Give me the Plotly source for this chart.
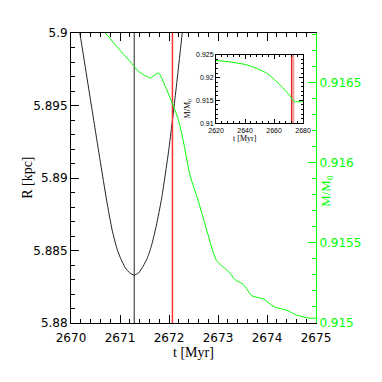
import plotly.graph_objects as go

# radius of the orbit around pericentre
t_r = [2670.09, 2670.19, 2670.43, 2670.59, 2670.73, 2670.84, 2670.94, 2671.02,
       2671.11, 2671.20, 2671.29, 2671.38, 2671.47, 2671.56, 2671.64, 2671.74,
       2671.85, 2671.99, 2672.13, 2672.27, 2672.34]
r_kpc = [5.9019, 5.8998, 5.8947, 5.8913, 5.8884, 5.8864, 5.8851, 5.8844,
         5.8838, 5.88345, 5.8833, 5.88345, 5.8839, 5.8845, 5.8853, 5.8867,
         5.8886, 5.8918, 5.8957, 5.9000, 5.9023]

# bound mass fraction, zoomed window
t_m = [2670.70, 2670.95, 2671.24, 2671.38, 2671.62, 2671.72, 2671.79, 2671.92,
       2672.03, 2672.19, 2672.29, 2672.43, 2672.60, 2672.76, 2672.97, 2673.22,
       2673.35, 2673.52, 2673.69, 2673.93, 2674.15, 2674.40, 2674.60, 2674.87,
       2675.00]
m_frac = [0.91681, 0.91672, 0.91662, 0.91657, 0.91653, 0.91655, 0.91656, 0.91648,
          0.91640, 0.91627, 0.91614, 0.91592, 0.91576, 0.91559, 0.91539, 0.91532,
          0.91527, 0.91524, 0.91517, 0.91515, 0.91510, 0.91508, 0.91505, 0.91503,
          0.91503]

# bound mass fraction, long window (inset)
t_inset = [2620.0, 2630.0, 2641.0, 2648.0, 2654.8, 2661.7, 2666.0, 2669.4,
           2671.5, 2672.5, 2674.0, 2676.0, 2678.1, 2680.0]
m_inset = [0.92375, 0.92340, 0.92280, 0.92200, 0.92100, 0.91914, 0.91780, 0.91659,
           0.91580, 0.91520, 0.91480, 0.91470, 0.91470, 0.91470]

t_peri = 2671.29
t_mark = 2672.07
t_band = 2672.8

green = "#00ff00"
tick_font = dict(family="DejaVu Sans", size=12, color="black")
small_font = dict(family="Liberation Sans", size=7, color="black")

fig = go.Figure()
fig.add_trace(go.Scatter(x=t_r, y=r_kpc, mode="lines",
                         line=dict(color="#222222", width=1, shape="spline", smoothing=0.5),
                         xaxis="x", yaxis="y"))
fig.add_trace(go.Scatter(x=[t_peri, t_peri], y=[5.88, 5.9], mode="lines",
                         line=dict(color="#222222", width=1), xaxis="x", yaxis="y"))
fig.add_trace(go.Scatter(x=[t_mark, t_mark], y=[5.88, 5.9], mode="lines",
                         line=dict(color="#ff3333", width=1.5), xaxis="x", yaxis="y"))
fig.add_trace(go.Scatter(x=t_m, y=m_frac, mode="lines",
                         line=dict(color=green, width=1, shape="spline", smoothing=0.6),
                         xaxis="x", yaxis="y2"))
# inset
fig.add_trace(go.Scatter(x=[t_band, t_band], y=[0.91, 0.925], mode="lines",
                         line=dict(color="rgba(240,130,130,0.8)", width=3.5),
                         xaxis="x2", yaxis="y3"))
fig.add_trace(go.Scatter(x=[t_mark, t_mark], y=[0.91, 0.925], mode="lines",
                         line=dict(color="#dd2222", width=1), xaxis="x2", yaxis="y3"))
fig.add_trace(go.Scatter(x=t_inset, y=m_inset, mode="lines",
                         line=dict(color=green, width=1, shape="spline", smoothing=0.8),
                         xaxis="x2", yaxis="y3"))

# the page body adds 8px around the figure, so the figure is 374 wide/high
fig.update_layout(
    width=374, height=374,
    margin=dict(l=63, r=66, t=25, b=59),
    paper_bgcolor="white", plot_bgcolor="white",
    showlegend=False,
    xaxis=dict(range=[2670, 2675], dtick=1, tick0=2670, ticks="inside", ticklen=8,
               tickcolor="black", showline=True, linecolor="black", linewidth=1,
               mirror="ticks", showgrid=False, zeroline=False, tickfont=tick_font,
               automargin=False, ticklabelstandoff=4,
               minor=dict(ticks="inside", dtick=0.2, ticklen=4, tickcolor="black")),
    yaxis=dict(range=[5.88, 5.9], dtick=0.005, tick0=5.88, ticks="inside", ticklen=8,
               tickcolor="black", showline=True, linecolor="black", linewidth=1,
               showgrid=False, zeroline=False, tickfont=tick_font, automargin=False,
               minor=dict(ticks="inside", dtick=0.001, ticklen=4, tickcolor="black")),
    yaxis2=dict(range=[0.915, 0.91681], dtick=0.0005, tick0=0.915, overlaying="y",
                side="right", anchor="x", ticks="inside", ticklen=8, tickcolor=green,
                showline=True, linecolor=green, linewidth=1, showgrid=False,
                zeroline=False, automargin=False,
                tickfont=dict(family="DejaVu Sans", size=12, color=green),
                minor=dict(ticks="inside", dtick=0.0001, ticklen=4, tickcolor=green)),
    xaxis2=dict(domain=[0.592, 0.947], anchor="y3", range=[2620, 2680], dtick=20,
                tick0=2620, ticks="inside", ticklen=4, tickcolor="black", showline=True,
                linecolor="black", linewidth=1, mirror="ticks", showgrid=False,
                zeroline=False, tickfont=small_font,
                minor=dict(ticks="inside", dtick=4, ticklen=2, tickcolor="black")),
    yaxis3=dict(domain=[0.689, 0.925], anchor="x2", range=[0.91, 0.925], dtick=0.005,
                tick0=0.91, ticks="inside", ticklen=4, tickcolor="black", showline=True,
                linecolor="black", linewidth=1, mirror="ticks", showgrid=False,
                zeroline=False, tickfont=small_font,
                minor=dict(ticks="inside", dtick=0.001, ticklen=2, tickcolor="black")),
)

serif = "Liberation Serif"
fig.add_annotation(text="t [Myr]", xref="paper", yref="paper", x=0.5, y=-0.103,
                   yanchor="middle", showarrow=False,
                   font=dict(family=serif, size=14, color="black"))
fig.add_annotation(text="R [kpc]", xref="paper", yref="paper", x=-0.219, y=0.5,
                   textangle=-90, showarrow=False,
                   font=dict(family=serif, size=14, color="black"))
fig.add_annotation(text="M/M<sub>0</sub>", xref="paper", yref="paper", x=1.088, y=0.456,
                   textangle=-90, showarrow=False,
                   font=dict(family=serif, size=13, color=green))
fig.add_annotation(text="t [Myr]", xref="paper", yref="paper", x=0.769, y=0.635,
                   yanchor="middle", showarrow=False,
                   font=dict(family=serif, size=8, color="black"))
fig.add_annotation(text="M/M<sub>0</sub>", xref="paper", yref="paper", x=0.477, y=0.779,
                   textangle=-90, showarrow=False,
                   font=dict(family=serif, size=8, color="black"))

fig.write_html("out.html")
